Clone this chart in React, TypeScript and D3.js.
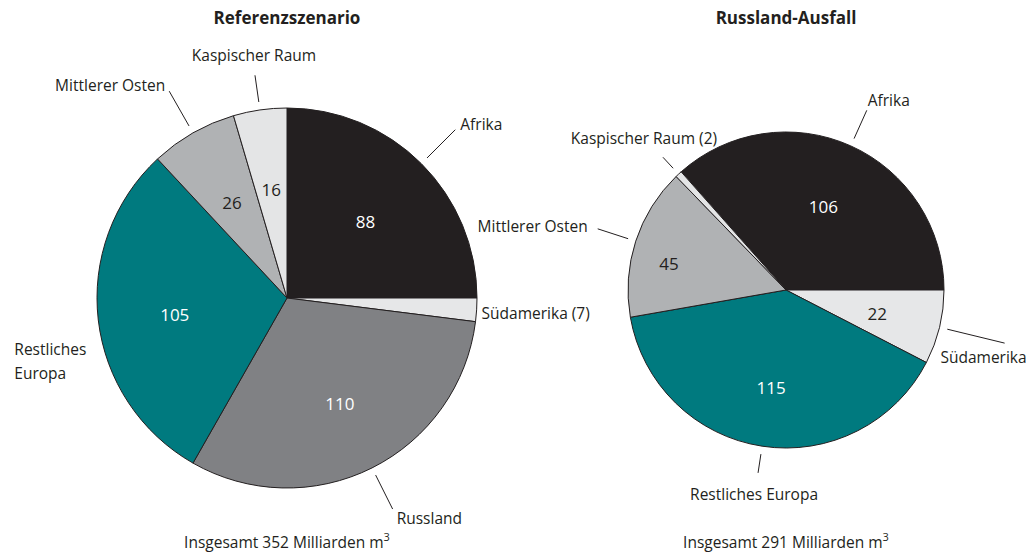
import React from 'react';
import * as d3 from 'd3';

// Referenzszenario
const refCategories = ['Afrika', 'Südamerika (7)', 'Russland', 'Restliches Europa', 'Mittlerer Osten', 'Kaspischer Raum'];
const refValues = [88, 7, 110, 105, 26, 16];
const refColors = ['#231f20', '#e6e7e8', '#808184', '#007a7f', '#b0b2b4', '#e4e5e6'];
const refTotal = 352;

// Russland-Ausfall
const ausCategories = ['Afrika', 'Südamerika', 'Restliches Europa', 'Mittlerer Osten', 'Kaspischer Raum (2)'];
const ausValues = [106, 22, 115, 45, 2];
const ausColors = ['#231f20', '#e6e7e8', '#007a7f', '#b0b2b4', '#e4e5e6'];
const ausTotal = 291;

const FONT = '"Open Sans", "Noto Sans", sans-serif';
const INK = '#231f20';
const LABEL_SIZE = 15.5;

// Layout für Beschriftungen: ext = Länge der Führungslinie (0 = keine), dx/dy = Textversatz
const refLabelLayout = [
  { ext: 40, dx: 5, dy: 0, anchor: 'start' },
  { ext: 0, dx: -1, dy: 9, anchor: 'start' },
  { ext: 38, dx: 4, dy: 15, anchor: 'start' },
  { ext: 0, dx: -78, dy: 34, anchor: 'start' },
  { ext: 40, dx: -4, dy: 0, anchor: 'end' },
  { ext: 27, dx: -1, dy: -14, anchor: 'middle' },
];
const refValueRadius = [111, 0, 118, 113, 111, 110];
const refValueDy = [2, 0, 0, 4, 1, 1];

const ausLabelLayout = [
  { ext: 31, dx: 1, dy: -4, anchor: 'start' },
  { ext: 59, dx: 22, dy: 20, anchor: 'end' },
  { ext: 19, dx: -4, dy: 27, anchor: 'middle' },
  { ext: 32, dx: -10, dy: 3, anchor: 'end' },
  { ext: 15, dx: -19, dy: -13, anchor: 'middle' },
];
const ausValueRadius = [91, 94, 99, 123, 0];
const ausValueDy = [0, 2, 0, 12, 0];

type Layout = { ext: number; dx: number; dy: number; anchor: string };

function Pie({ cx, cy, r, title, categories, values, colors, total, layout, valueRadius, valueDy, startAngle }: {
  cx: number; cy: number; r: number; title: string; categories: string[]; values: number[];
  colors: string[]; total: number; layout: Layout[]; valueRadius: number[]; valueDy: number[]; startAngle: number;
}) {
  const pie = d3.pie<number>().sort(null).value(d => d)
    .startAngle(startAngle).endAngle(startAngle + 2 * Math.PI);
  const arcs = pie(values);
  const arc = d3.arc<d3.PieArcDatum<number>>().innerRadius(0).outerRadius(r);
  const polar = (a: number, rad: number) => [cx + rad * Math.sin(a), cy - rad * Math.cos(a)];

  return (
    <g>
      <text x={cx} y={24} textAnchor="middle" fontFamily={FONT} fontSize={17} fontWeight="bold" fill={INK}>{title}</text>
      <g transform={`translate(${cx},${cy})`}>
        {arcs.map((a, i) => (
          <path key={i} d={arc(a) || ''} fill={colors[i]} stroke={INK} strokeWidth={1} strokeLinejoin="round" />
        ))}
      </g>
      {arcs.map((a, i) => {
        const mid = (a.startAngle + a.endAngle) / 2;
        const lay = layout[i];
        const [x1, y1] = polar(mid, r + 8);
        const [x2, y2] = polar(mid, r + (lay.ext || 6) + (lay.ext ? 8 : 0));
        const lines = categories[i] === 'Restliches Europa' && lay.ext === 0 ? ['Restliches', 'Europa'] : [categories[i]];
        return (
          <g key={'l' + i}>
            {lay.ext > 0 && <line x1={x1} y1={y1} x2={x2} y2={y2} stroke={INK} strokeWidth={1} />}
            <text x={x2 + lay.dx} y={y2 + lay.dy} textAnchor={lay.anchor} fontFamily={FONT} fontSize={LABEL_SIZE} fill={INK}>
              {lines.map((t, j) => (
                <tspan key={j} x={x2 + lay.dx} dy={j === 0 ? 0 : 24}>{t}</tspan>
              ))}
            </text>
          </g>
        );
      })}
      {arcs.map((a, i) => {
        if (!valueRadius[i]) return null;
        const mid = (a.startAngle + a.endAngle) / 2;
        const [x, y] = polar(mid, valueRadius[i]);
        const light = d3.hsl(colors[i]).l > 0.6;
        return (
          <text key={'v' + i} x={x} y={y + 6 + valueDy[i]} textAnchor="middle" fontFamily={FONT} fontSize={17}
            fill={light ? INK : '#ffffff'}>{values[i]}</text>
        );
      })}
      <text x={cx} y={548} textAnchor="middle" fontFamily={FONT} fontSize={LABEL_SIZE} fill={INK}>
        {`Insgesamt ${total} Milliarden m`}
        <tspan fontSize={11} dy={-7}>3</tspan>
      </text>
    </g>
  );
}

export default function App() {
  const ausSum = d3.sum(ausValues);
  const ausStart = Math.PI / 2 - (2 * Math.PI * ausValues[0]) / ausSum;
  return (
    <svg width={1027} height={553} style={{ position: 'absolute', left: 0, top: 0, background: '#fff' }}>
      <Pie cx={287} cy={298} r={190} title="Referenzszenario" categories={refCategories} values={refValues}
        colors={refColors} total={refTotal} layout={refLabelLayout} valueRadius={refValueRadius} valueDy={refValueDy}
        startAngle={0} />
      <Pie cx={786} cy={290} r={158} title="Russland-Ausfall" categories={ausCategories} values={ausValues}
        colors={ausColors} total={ausTotal} layout={ausLabelLayout} valueRadius={ausValueRadius} valueDy={ausValueDy}
        startAngle={ausStart} />
    </svg>
  );
}
